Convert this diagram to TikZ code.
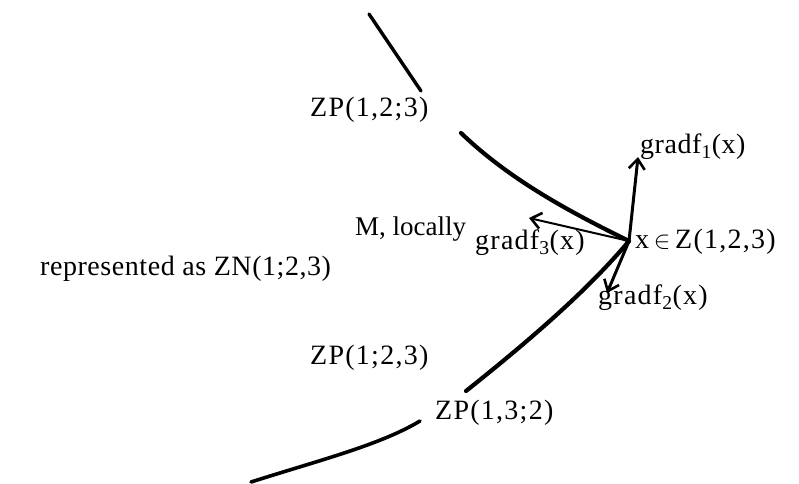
\documentclass[tikz,border=0pt]{standalone}
\usepackage{fontspec}
\setmainfont{Liberation Serif}
\usetikzlibrary{arrows.meta}
\begin{document}
\begin{tikzpicture}[x=1pt,y=-1pt,
  lbl/.style={inner sep=0pt,anchor=west,font=\fontsize{28}{32}\selectfont\addfontfeature{LetterSpace=2}},
  wide/.style={font=\fontsize{28}{32}\selectfont\addfontfeature{LetterSpace=4.5}},
  curve/.style={line width=4.2pt,line cap=round},
  grad/.style={line width=3pt,-{Straight Barb[length=10pt,width=16pt,line width=2.6pt]}}]
\useasboundingbox (0,0) rectangle (799,483);
% key points
\coordinate (P) at (629,241);
\coordinate (t1) at (369,14);
\coordinate (t2) at (421,91);
\coordinate (u1) at (461,133);
\coordinate (l1) at (466,391);
\coordinate (b1) at (420,421);
\coordinate (b2) at (251,482);
\coordinate (g1) at (638,157);
\coordinate (g2) at (607,293);
\coordinate (g3) at (529,218);
% curves
\draw[line width=3.4pt,line cap=round] (t1) -- (t2);
\draw[curve] (u1) .. controls (510,180) and (570,212) .. (P);
\draw[curve] (P) .. controls (588,290) and (530,340) .. (l1);
\draw[line width=3.6pt,line cap=round] (b1) .. controls (380,445) and (320,460) .. (b2);
% gradients
\draw[grad] (P) -- (g1);
\draw[grad] (P) -- (g2);
\draw[grad,line width=2pt] (P) -- (g3);
% labels
\node[lbl,wide] (zp123) at (310,110) {ZP(1,2;3)};
\node[lbl] (gf1) at (640,147) {gradf\textsubscript{1}(x)};
\node[lbl,font=\fontsize{27}{32}\selectfont] (m) at (355,229) {M, locally};
\node[lbl] (rep) at (40,269) {represented as ZN(1;2,3)};
\node[lbl,wide] (gf3) at (475,243) {gradf\textsubscript{3}(x)};
\node[lbl,wide] (xz) at (635,242) {x\,$\in$\,Z(1,2,3)};
\node[lbl,wide] (gf2) at (598,298) {gradf\textsubscript{2}(x)};
\node[lbl,wide] (zp1a) at (310,358) {ZP(1;2,3)};
\node[lbl,wide] (zp132) at (435,413) {ZP(1,3;2)};
\end{tikzpicture}
\end{document}
